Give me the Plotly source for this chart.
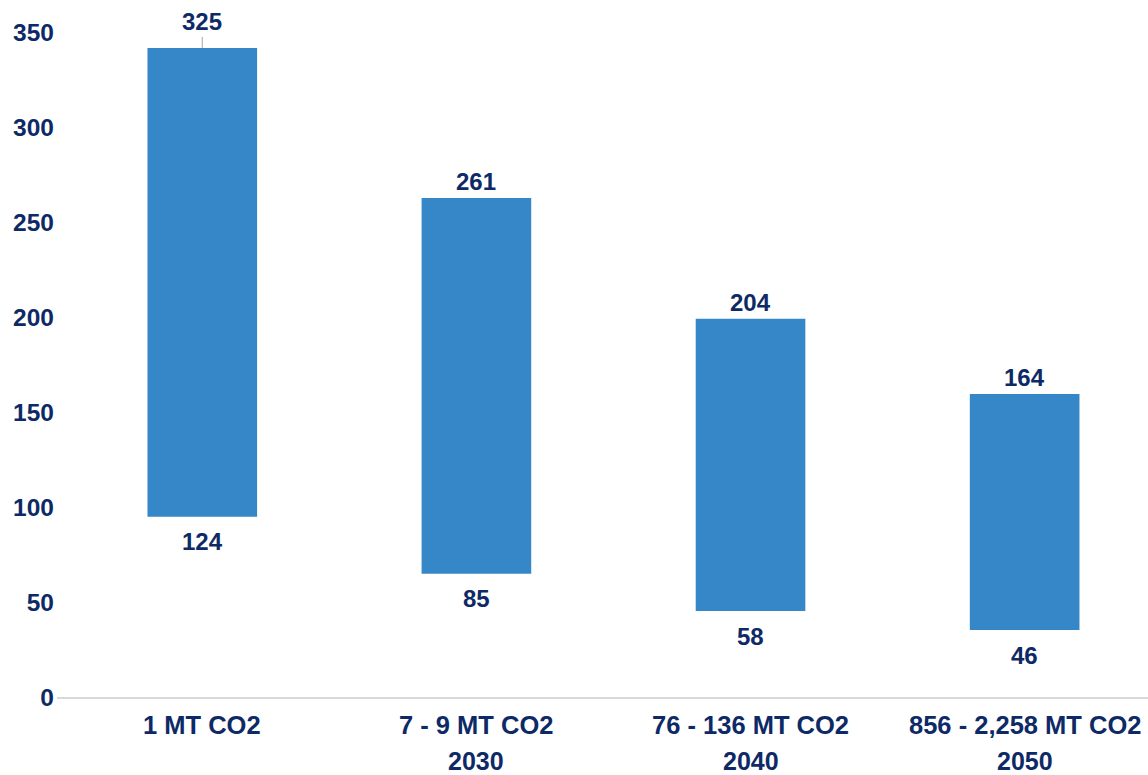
import plotly.graph_objects as go

# Data
categories = ["1 MT CO2", "7 - 9 MT CO2", "76 - 136 MT CO2", "856 - 2,258 MT CO2"]
years = ["", "2030", "2040", "2050"]
bar_low = [95, 65, 45.3, 35.3]
bar_high = [342, 263, 199.3, 159.7]
label_high = [325, 261, 204, 164]
label_low = [124, 85, 58, 46]

NAVY = "#0E2A66"
BLUE = "#3587C8"
FONT = "Liberation Sans"

x_idx = list(range(len(categories)))

fig = go.Figure()
fig.add_trace(go.Bar(
    x=x_idx,
    y=[h - l for h, l in zip(bar_high, bar_low)],
    base=bar_low,
    width=0.4,
    marker=dict(color=BLUE, line=dict(width=0)),
    hoverinfo="skip",
))

annotations = []
for i in x_idx:
    if i == 0:
        annotations.append(dict(
            x=i, y=bar_high[i], xref="x", yref="y", text=str(label_high[i]),
            showarrow=True, arrowhead=0, arrowwidth=1, arrowcolor="#A6A6A6",
            ax=0, ay=-26, standoff=0, startstandoff=0,
            font=dict(family=FONT, size=24, color=NAVY, weight="bold"),
        ))
    else:
        annotations.append(dict(
            x=i, y=bar_high[i], xref="x", yref="y", text=str(label_high[i]),
            showarrow=False, yanchor="middle", yshift=16,
            font=dict(family=FONT, size=24, color=NAVY, weight="bold"),
        ))
    annotations.append(dict(
        x=i, y=bar_low[i], xref="x", yref="y", text=str(label_low[i]),
        showarrow=False, yanchor="middle", yshift=-25,
        font=dict(family=FONT, size=24, color=NAVY, weight="bold"),
    ))
    annotations.append(dict(
        x=i, y=0, xref="x", yref="paper", text=categories[i],
        showarrow=False, yanchor="middle", yshift=-28,
        font=dict(family=FONT, size=25.5, color=NAVY, weight="bold"),
    ))
    if years[i]:
        annotations.append(dict(
            x=i, y=0, xref="x", yref="paper", text=years[i],
            showarrow=False, yanchor="middle", yshift=-64,
            font=dict(family=FONT, size=25, color=NAVY, weight="bold"),
        ))

fig.update_layout(
    width=1148, height=775,
    margin=dict(l=57, r=0, t=10, b=78),
    paper_bgcolor="white", plot_bgcolor="white",
    showlegend=False,
    annotations=annotations,
    xaxis=dict(
        range=[-0.53, 3.45], showticklabels=False, showgrid=False,
        zeroline=False, showline=True, linecolor="#D9D9D9", linewidth=2,
        ticks="",
    ),
    yaxis=dict(
        range=[0, 362], tickvals=[0, 50, 100, 150, 200, 250, 300, 350],
        showgrid=False, zeroline=False, showline=False, ticks="",
        ticklabelstandoff=2,
        tickfont=dict(family=FONT, size=24.5, color=NAVY, weight="bold"),
    ),
)

fig.write_html("out.html")
